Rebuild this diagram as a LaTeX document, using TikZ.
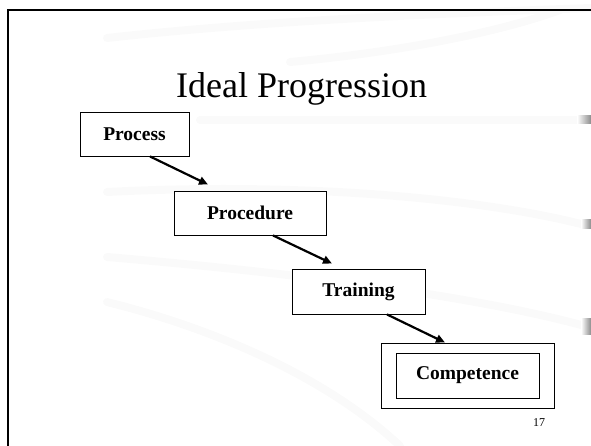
\documentclass[tikz,border=0pt]{standalone}
\usepackage{fontspec}
\setmainfont{Liberation Serif}
\usepackage{tikz}
\usetikzlibrary{arrows.meta,positioning,calc}
\usepackage{xcolor}
\definecolor{slideink}{HTML}{000000}
\definecolor{swooshgray}{HTML}{FAFAFA}
\definecolor{edgegray}{HTML}{8C8C8C}
\tikzset{
  stagebox/.style={
    draw=slideink,
    fill=white,
    line width=0.9pt,
    minimum height=44pt,
    inner sep=0pt,
    align=center,
    font=\fontsize{19.5}{22}\selectfont\bfseries
  },
  swoosh/.style={
    draw=swooshgray,
    line width=8pt,
    line cap=round
  },
  edgemark/.style={
    left color=white,
    right color=edgegray
  },
  arrow/.style={
    -{Triangle[length=9pt,width=8pt]},
    line width=2.2pt,
    draw=slideink
  }
}

\begin{document}
\begin{tikzpicture}[x=1pt,y=-1pt]
\useasboundingbox (0,0) rectangle (591,446);
% faint slide background
\draw[swoosh] (107,38) .. controls (250,22) and (420,14) .. (591,8);
\draw[swoosh] (290,62) .. controls (400,52) and (500,32) .. (560,10);
\draw[swoosh] (200,120) -- (585,120);
\draw[swoosh] (107,192) .. controls (300,182) and (480,198) .. (585,225);
\draw[swoosh] (107,257) .. controls (260,270) and (460,292) .. (585,326);
\draw[swoosh] (107,302) .. controls (220,330) and (330,380) .. (400,446);
\shade[edgemark] (577,116) rectangle (591,124);
\shade[edgemark] (581,220) rectangle (591,229);
\shade[edgemark] (581,318) rectangle (591,334);
% slide frame
\draw[slideink, line width=2.4pt] (8,446) |- (591,10);
\node[anchor=base west, inner sep=0pt, font=\fontsize{36}{40}\selectfont] (title) at (176,98) {Ideal Progression};
\node[stagebox, minimum width=109pt] (process) at (134.5,134) {Process};
\node[stagebox, minimum width=152pt] (procedure) at (250,213) {Procedure};
\node[stagebox, minimum width=133pt, minimum height=45pt] (training) at (358.5,291.5) {Training};
\node[draw=slideink, line width=0.9pt, minimum width=173pt, minimum height=65pt, inner sep=0pt] (outer) at (467.5,375.5) {};
\node[stagebox, minimum width=143pt, minimum height=45pt] (competence) at (outer.center) {Competence};
\node[font=\fontsize{12}{14}\selectfont, inner sep=0pt] (page) at (539,423) {17};
\draw[arrow] ([xshift=15.5pt]process.south) -- ([xshift=-42pt,yshift=6pt]procedure.north);
\draw[arrow] ([xshift=23pt]procedure.south) -- ([xshift=-26.5pt,yshift=5pt]training.north);
\draw[arrow] ([xshift=28.5pt]training.south) -- ([xshift=-22.5pt]outer.north);
\end{tikzpicture}
\end{document}
